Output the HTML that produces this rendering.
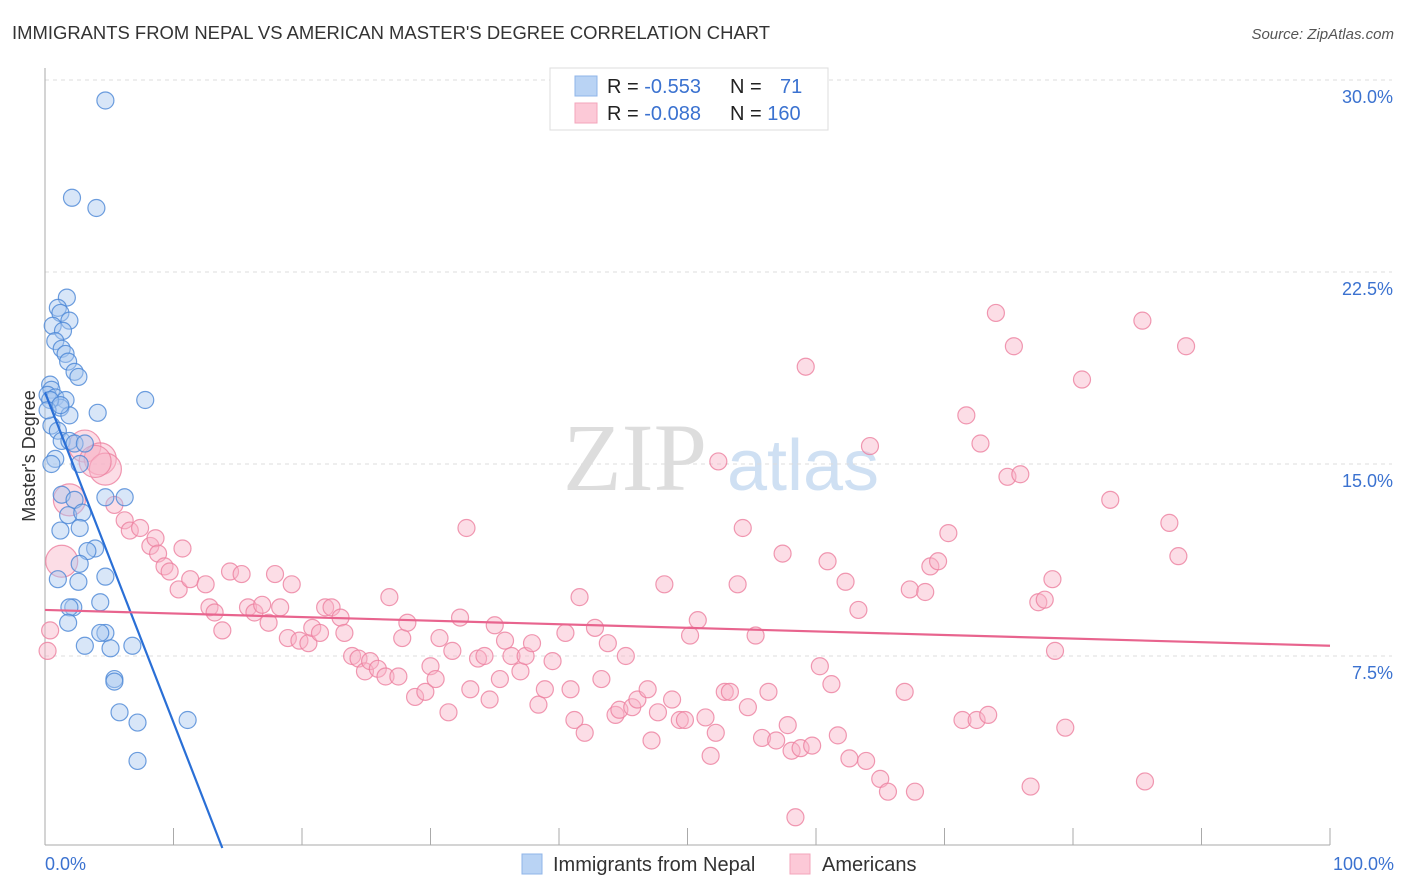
<!DOCTYPE html>
<html><head><meta charset="utf-8"><style>
body{margin:0;background:#fff;font-family:"Liberation Sans",sans-serif;}
svg{display:block}
</style></head><body>
<svg id="chart" width="1406" height="892">
<text x="12" y="39" font-size="18" fill="#333" textLength="758" lengthAdjust="spacingAndGlyphs">IMMIGRANTS FROM NEPAL VS AMERICAN MASTER'S DEGREE CORRELATION CHART</text>
<text x="1394" y="39" font-size="15" fill="#555" font-style="italic" text-anchor="end">Source: ZipAtlas.com</text>
<g>
<text x="635" y="490" font-size="96" fill="#ddd" font-family="Liberation Serif,serif" text-anchor="middle">ZIP</text>
<text x="803" y="490" font-size="72" fill="#cfe0f3" text-anchor="middle">atlas</text>
</g>
<g id="grid"></g>
<g id="axes"></g>
<g id="pts"></g>
<g id="lines"></g>
<text transform="translate(35,456) rotate(-90)" font-size="18" fill="#333" text-anchor="middle">Master's Degree</text>
<text x="45" y="870" font-size="18" fill="#3b72d0">0.0%</text>
<text x="1394" y="870" font-size="18" fill="#3b72d0" text-anchor="end">100.0%</text>
<g>
<rect x="550" y="68" width="278" height="62" fill="#fff" stroke="#ddd"/>
<rect x="575" y="76" width="22" height="20" fill="#b9d3f4" stroke="#8fb5e8"/>
<rect x="575" y="103" width="22" height="20" fill="#fcc9d7" stroke="#f3a5bb"/>
<text x="607" y="93" font-size="20" fill="#222">R = <tspan fill="#3b72d0">-0.553</tspan></text>
<text x="730" y="93" font-size="20" fill="#222">N = <tspan fill="#3b72d0" x="780">71</tspan></text>
<text x="607" y="120" font-size="20" fill="#222">R = <tspan fill="#3b72d0">-0.088</tspan></text>
<text x="730" y="120" font-size="20" fill="#222">N = <tspan fill="#3b72d0">160</tspan></text>
</g>
<g>
<rect x="522" y="854" width="20" height="20" fill="#b9d3f4" stroke="#8fb5e8"/>
<text x="553" y="871" font-size="20" fill="#333">Immigrants from Nepal</text>
<rect x="790" y="854" width="20" height="20" fill="#fcc9d7" stroke="#f3a5bb"/>
<text x="822" y="871" font-size="20" fill="#333">Americans</text>
</g>
</svg>
<script>
const yTicks=[7.5,15.0,22.5,30.0];
const xTicks=[0,10,20,30,40,50,60,70,80,90,100];
const blueX=[4.7,2.1,4.0,1.7,1.0,1.2,1.9,0.6,1.4,0.8,1.3,1.6,1.8,2.3,2.6,0.4,0.5,0.2,0.8,1.6,1.2,4.1,7.8,1.9,0.5,1.0,1.3,1.9,2.3,3.1,0.8,0.5,2.7,1.3,2.3,4.7,6.2,1.8,2.9,1.2,2.7,3.9,3.3,2.7,1.0,2.6,4.7,2.2,1.9,1.8,4.3,4.7,4.3,3.1,5.1,6.8,5.4,5.4,5.8,7.2,11.1,7.2,0.4,0.2,1.2];
const blueY=[29.2,25.4,25.0,21.5,21.1,20.9,20.6,20.4,20.2,19.8,19.5,19.3,19.0,18.6,18.4,18.1,17.9,17.7,17.6,17.5,17.2,17.0,17.5,16.9,16.5,16.3,15.9,15.9,15.8,15.8,15.2,15.0,15.0,13.8,13.6,13.7,13.7,13.0,13.1,12.4,12.5,11.7,11.6,11.1,10.5,10.4,10.6,9.4,9.4,8.8,9.6,8.4,8.4,7.9,7.8,7.9,6.6,6.5,5.3,4.9,5.0,3.4,17.5,17.1,17.3];
const pinkBigX=[3.1,4.3,4.7,3.9,1.9,1.3];
const pinkBigY=[15.7,15.2,14.8,15.1,13.6,11.2];
const pinkX=[0.4,0.2,5.4,6.2,6.6,7.4,8.2,8.6,8.8,9.3,9.7,10.7,10.4,11.3,12.5,12.8,13.2,13.8,14.4,15.3,15.8,16.3,16.9,17.9,17.4,18.3,19.2,18.9,19.8,20.5,20.8,21.4,21.8,22.3,23.0,23.3,23.9,24.4,24.9,25.3,25.9,26.8,26.5,27.5,27.8,28.2,28.8,29.6,30.0,30.4,30.7,31.4,31.7,32.3,32.8,33.1,33.7,34.2,34.6,35.0,35.4,35.8,36.3,37.0,37.4,37.9,38.4,38.9,39.5,40.5,40.9,41.2,41.6,42.0,42.8,43.3,43.8,44.4,44.7,45.2,45.7,46.1,46.9,47.2,47.7,48.2,48.8,49.4,49.8,50.2,50.8,51.4,51.8,52.4,52.2,52.9,53.3,53.9,54.3,54.7,55.3,55.8,56.3,56.9,57.4,57.8,58.1,58.4,58.8,59.2,59.7,60.3,60.9,61.2,61.7,62.3,62.6,63.3,63.9,64.2,65.0,65.6,66.9,67.3,67.7,68.5,68.9,69.5,70.3,71.4,71.7,72.5,72.8,73.4,74.0,74.9,75.4,75.9,76.7,77.3,77.8,78.4,78.6,79.4,80.7,82.9,85.4,85.6,87.5,88.2,88.8];
const pinkY=[8.5,7.7,13.4,12.8,12.4,12.5,11.8,12.1,11.5,11.0,10.8,11.7,10.1,10.5,10.3,9.4,9.2,8.5,10.8,10.7,9.4,9.2,9.5,10.7,8.8,9.4,10.3,8.2,8.1,8.0,8.6,8.4,9.4,9.4,9.0,8.4,7.5,7.4,6.9,7.3,7.0,9.8,6.7,6.7,8.2,8.8,5.9,6.1,7.1,6.6,8.2,5.3,7.7,9.0,12.5,6.2,7.4,7.5,5.8,8.7,6.6,8.1,7.5,6.9,7.5,8.0,5.6,6.2,7.3,8.4,6.2,5.0,9.8,4.5,8.6,6.6,8.0,5.2,5.4,7.5,5.5,5.8,6.2,4.2,5.3,10.3,5.8,5.0,5.0,8.3,8.9,5.1,3.6,15.1,4.5,6.1,6.1,10.3,12.5,5.5,8.3,4.3,6.1,4.2,11.5,4.8,3.8,1.2,3.9,18.8,4.0,7.1,11.2,6.4,4.4,10.4,3.5,9.3,3.4,15.7,2.7,2.2,6.1,10.1,2.2,10.0,11.0,11.2,12.3,5.0,16.9,5.0,15.8,5.2,20.9,14.5,19.6,14.6,2.4,9.6,9.7,10.5,7.7,4.7,18.3,13.6,20.6,2.6,12.7,11.4,19.6];
const blueTrendX=[0,13.8];
const blueTrendY=[17.8,0];
const pinkTrendX=[0,100];
const pinkTrendY=[9.3,7.9];

const NS='http://www.w3.org/2000/svg';
const X=v=>45+v*12.85;
const Y=v=>80+(30-v)*25.6;
function mk(tag,attrs,parent){const e=document.createElementNS(NS,tag);for(const k in attrs)e.setAttribute(k,attrs[k]);parent.appendChild(e);return e;}
const grid=document.getElementById('grid'),axes=document.getElementById('axes'),pts=document.getElementById('pts'),lines=document.getElementById('lines');
yTicks.forEach(t=>{
  const l=mk('line',{x1:45,x2:1392,y1:Y(t),y2:Y(t),stroke:'#ddd','stroke-dasharray':'4,4'},grid);
  
  
  const tx=mk('text',{x:1393,y:Y(t)+23,'font-size':18,fill:'#3b72d0','text-anchor':'end'},grid);
  tx.textContent=t.toFixed(1)+'%';
  
  
});
const ax=mk('line',{x1:45,x2:45,y1:68,y2:845,stroke:'#aaa'},axes);


const bx=mk('line',{x1:45,x2:1330,y1:845,y2:845,stroke:'#aaa'},axes);


xTicks.forEach(t=>{
  const l=mk('line',{x1:X(t),x2:X(t),y1:828,y2:845,stroke:'#aaa'},axes);
  
  
});
function dots(xs,ys,r,fill,stroke,name){
  xs.forEach((v,i)=>{
    const c=mk('circle',{cx:X(v),cy:Y(ys[i]),r:r,fill:fill,'fill-opacity':0.45,stroke:stroke,'stroke-opacity':0.8,'stroke-width':1.2},pts);
    
    
  });
}
dots(pinkX,pinkY,8.5,'#f8b4c8','#ec7f9f','americans-point');
dots(pinkBigX,pinkBigY,16,'#f8b4c8','#ec7f9f','americans-point-large');
dots(blueX,blueY,8.5,'#a9c8f0','#4a86d6','nepal-point');
const bl=mk('line',{x1:X(blueTrendX[0]),y1:Y(blueTrendY[0]),x2:X(blueTrendX[1]),y2:Y(blueTrendY[1]),stroke:'#2a6fd6','stroke-width':2.2},lines);


const pl=mk('line',{x1:X(pinkTrendX[0]),y1:Y(pinkTrendY[0]),x2:X(pinkTrendX[1]),y2:Y(pinkTrendY[1]),stroke:'#e8648e','stroke-width':2.2},lines);


</script>
</body></html>
